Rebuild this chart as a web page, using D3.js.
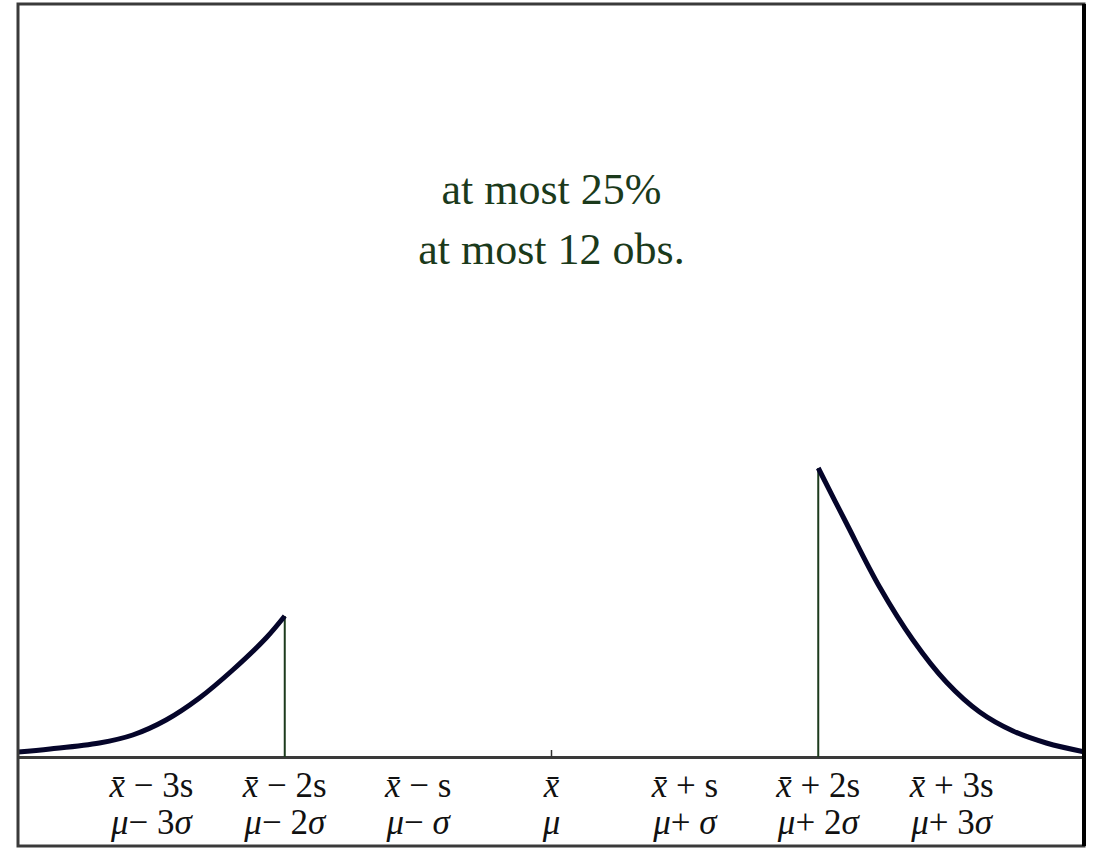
<!DOCTYPE html>
<html>
<head>
<meta charset="utf-8">
<script src="https://d3js.org/d3.v7.min.js"></script>
<style>
  body { margin: 0; background: #fff; }
  svg { display: block; }
</style>
</head>
<body>
<script>
// x positions in standard deviations from the mean
var tickValues = [-3, -2, -1, 0, 1, 2, 3];
var sampleLabels = ["x̄ − 3s", "x̄ − 2s", "x̄ − s", "x̄", "x̄ + s", "x̄ + 2s", "x̄ + 3s"];
var popLabels = ["μ− 3σ", "μ− 2σ", "μ− σ", "μ", "μ+ σ", "μ+ 2σ", "μ+ 3σ"];

// lower tail (left of mean - 2 sd)
var leftX = [-4.0, -3.76, -3.39, -3.14, -2.89, -2.64, -2.39, -2.14, -2.0];
var leftY = [0.005, 0.008, 0.014, 0.022, 0.037, 0.059, 0.087, 0.119, 0.141];
// upper tail (right of mean + 2 sd)
var rightX = [2.0, 2.21, 2.46, 2.71, 2.96, 3.21, 3.46, 3.71, 4.0];
var rightY = [0.289, 0.234, 0.170, 0.117, 0.075, 0.045, 0.026, 0.014, 0.005];

var noteLines = ["at most 25%", "at most 12 obs."];

var W = 1094, H = 848;
var plotLeft = 18, plotRight = 1085, plotTop = 4, base = 757;

var svg = d3.select("body").append("svg")
    .attr("width", W)
    .attr("height", H);

var x = d3.scaleLinear().domain([-4, 4]).range([plotLeft, plotRight]);
var y = d3.scaleLinear().domain([0, 0.753]).range([base, plotTop]);

svg.append("clipPath").attr("id", "plot")
  .append("rect").attr("x", plotLeft).attr("y", plotTop)
    .attr("width", plotRight - plotLeft).attr("height", base - plotTop);

// baseline axis
var axis = d3.axisBottom(x).tickValues(tickValues).tickSize(0).tickSizeOuter(0).tickFormat("");
var gx = svg.append("g")
    .attr("transform", "translate(0," + base + ")")
    .call(axis);
gx.select(".domain").attr("stroke", "#3a3a3a").attr("stroke-width", 3);

// small tick at the mean
svg.append("line")
    .attr("x1", x(0)).attr("x2", x(0))
    .attr("y1", base - 7).attr("y2", base)
    .attr("stroke", "#333").attr("stroke-width", 1.5);

// labels with italic letters
function addRuns(textSel, str) {
  var runs = [];
  Array.from(str).forEach(function(ch) {
    var it = /[xμσ\u0304]/.test(ch);
    if (runs.length && runs[runs.length - 1].it === it) runs[runs.length - 1].s += ch;
    else runs.push({ s: ch, it: it });
  });
  runs.forEach(function(r) {
    textSel.append("tspan")
      .attr("font-style", r.it ? "italic" : "normal")
      .text(r.s);
  });
}

tickValues.forEach(function(v, i) {
  var t1 = svg.append("text")
      .attr("x", x(v)).attr("y", 797)
      .attr("text-anchor", "middle")
      .attr("font-family", "Liberation Serif, serif")
      .attr("font-size", 35)
      .attr("fill", "#111");
  addRuns(t1, sampleLabels[i]);
  var t2 = svg.append("text")
      .attr("x", x(v)).attr("y", 834)
      .attr("text-anchor", "middle")
      .attr("font-family", "Liberation Serif, serif")
      .attr("font-size", 35)
      .attr("fill", "#111");
  addRuns(t2, popLabels[i]);
});

// vertical cut lines at +/- 2 sd
[[leftX, leftY, leftX.length - 1], [rightX, rightY, 0]].forEach(function(s) {
  var xv = s[0][s[2]], yv = s[1][s[2]];
  svg.append("line")
      .attr("x1", x(xv)).attr("x2", x(xv))
      .attr("y1", y(yv)).attr("y2", base)
      .attr("stroke", "#1d3b1d").attr("stroke-width", 2);
});

var line = d3.line()
    .x(function(d) { return x(d[0]); })
    .y(function(d) { return y(d[1]); })
    .curve(d3.curveCatmullRom.alpha(0.5));

[[leftX, leftY], [rightX, rightY]].forEach(function(s) {
  svg.append("path")
      .datum(d3.zip(s[0], s[1]))
      .attr("clip-path", "url(#plot)")
      .attr("fill", "none")
      .attr("stroke", "#05052a")
      .attr("stroke-width", 5)
      .attr("stroke-linejoin", "round")
      .attr("d", line);
});

// annotation
svg.selectAll(".note")
  .data(noteLines)
  .enter().append("text")
    .attr("class", "note")
    .attr("x", x(0))
    .attr("y", function(d, i) { return 204 + i * 60; })
    .attr("text-anchor", "middle")
    .attr("font-family", "Liberation Serif, serif")
    .attr("font-size", 44)
    .attr("fill", "#1b3a1b")
    .text(function(d) { return d; });

// frame
svg.append("rect")
    .attr("x", plotLeft).attr("y", plotTop)
    .attr("width", 1066).attr("height", 842)
    .attr("fill", "none")
    .attr("stroke", "#3a3a3a")
    .attr("stroke-width", 3);
svg.append("line")
    .attr("x1", 1084).attr("x2", 1084)
    .attr("y1", plotTop).attr("y2", 846)
    .attr("stroke", "#000").attr("stroke-width", 4);
</script>
</body>
</html>
